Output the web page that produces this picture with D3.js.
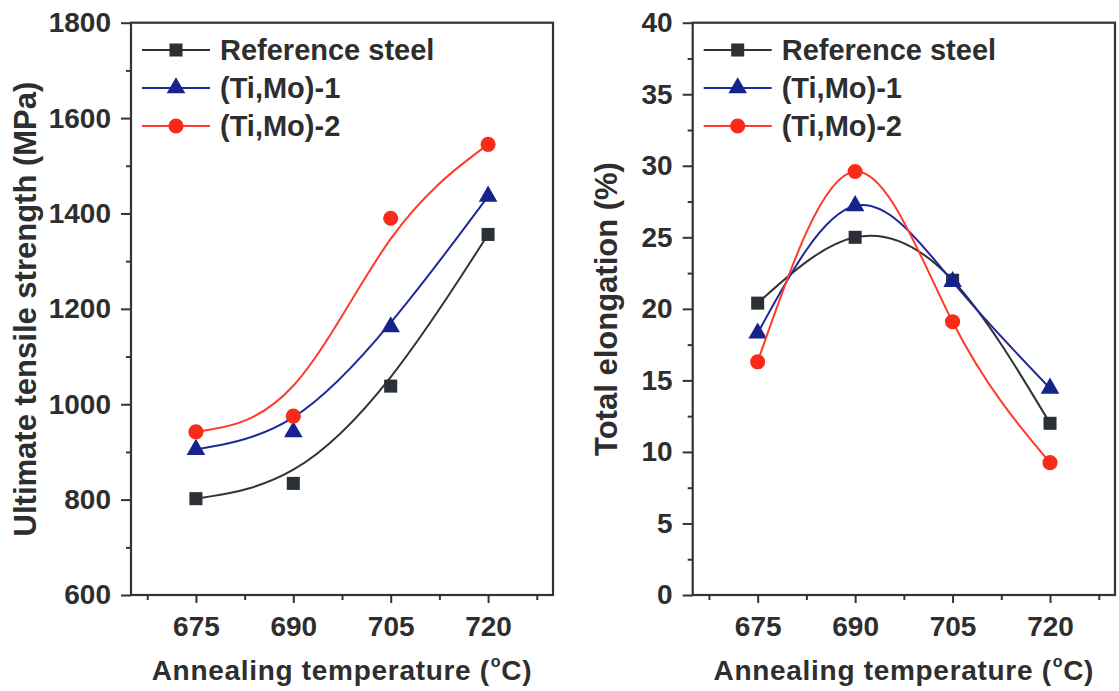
<!DOCTYPE html>
<html>
<head>
<meta charset="utf-8">
<script src="https://cdn.jsdelivr.net/npm/d3@7"></script>
<style>
  body { margin: 0; background: #fff; }
  text { font-family: "Liberation Sans", Arial, sans-serif; font-weight: bold; fill: #2e2e2e; }
</style>
</head>
<body>
<svg width="1119" height="691"></svg>
<script>
// data
const temps = [675, 690, 705, 720];
const seriesNames = ['Reference steel', '(Ti,Mo)-1', '(Ti,Mo)-2'];
const utsRef = [802, 834, 1038, 1356];
const utsTiMo1 = [905, 942, 1162, 1436];
const utsTiMo2 = [942, 975, 1390, 1545];
const elRef = [20.4, 25.0, 22.0, 12.0];
const elTiMo1 = [18.3, 27.2, 21.9, 14.45];
const elTiMo2 = [16.3, 29.6, 19.1, 9.25];
const utsTicks = [600, 800, 1000, 1200, 1400, 1600, 1800];
const elTicks = [0, 5, 10, 15, 20, 25, 30, 35, 40];

const svg = d3.select('svg');

const styles = [
  { line: '#333333', fill: '#2b2f36', sym: d3.symbolSquare, size: 170 },
  { line: '#1f2a9a', fill: '#17238c', sym: d3.symbolTriangle, size: 150 },
  { line: '#ff3b2b', fill: '#fa2a1a', sym: d3.symbolCircle, size: 180 }
];

function drawPanel(p) {
  const x = d3.scaleLinear().domain([665, 730]).range([p.left, p.right]);
  const y = d3.scaleLinear().domain(p.yDomain).range([595, 22.7]);
  const g = svg.append('g');

  // frame
  g.append('rect')
    .attr('x', p.left).attr('y', 22.7)
    .attr('width', p.right - p.left).attr('height', 595 - 22.7)
    .attr('fill', 'none').attr('stroke', '#333').attr('stroke-width', 2.2);

  // x axis
  const xa = g.append('g').attr('transform', 'translate(0,595)')
    .call(d3.axisBottom(x).tickValues(temps).tickSize(8).tickPadding(13).tickFormat(d3.format('d')));
  xa.append('g').call(d3.axisBottom(x).tickValues([667.5, 682.5, 697.5, 712.5, 727.5]).tickSize(5).tickFormat(''));

  // y axis
  const ya = g.append('g').attr('transform', `translate(${p.left},0)`)
    .call(d3.axisLeft(y).tickValues(p.ticks).tickSize(10).tickPadding(10).tickFormat(d3.format('d')));
  ya.append('g').call(d3.axisLeft(y).tickValues(p.minor).tickSize(5).tickFormat(''));

  g.selectAll('.domain').remove();
  g.selectAll('.tick line').attr('stroke', '#333').attr('stroke-width', 2);
  g.selectAll('.tick text').style('font-size', '28px').attr('fill', '#2e2e2e');

  // axis titles
  const xt = g.append('text')
    .attr('x', (p.left + p.right) / 2).attr('y', 680)
    .attr('text-anchor', 'middle').style('font-size', '28px').style('letter-spacing', '0.7px');
  xt.append('tspan').text('Annealing temperature (');
  xt.append('tspan').text('o').style('font-size', '16px').attr('dy', -13).attr('dx', 1);
  xt.append('tspan').text('C)').attr('dy', 13);

  g.append('text')
    .attr('transform', `translate(${p.titleX},309) rotate(-90)`)
    .attr('text-anchor', 'middle').style('font-size', '31px')
    .text(p.title);

  // curves and markers
  p.series.forEach((vals, i) => {
    const st = styles[i];
    const pts = temps.map((t, j) => [t, vals[j]]);
    g.append('path')
      .attr('d', d3.line().x(d => x(d[0])).y(d => y(d[1])).curve(p.curve)(pts))
      .attr('fill', 'none').attr('stroke', st.line).attr('stroke-width', 2);
    g.selectAll(null).data(pts).enter().append('path')
      .attr('transform', d => `translate(${x(d[0])},${y(d[1])})`)
      .attr('d', d3.symbol().type(st.sym).size(st.size))
      .attr('fill', st.fill);
  });

  // legend
  seriesNames.forEach((name, i) => {
    const st = styles[i];
    const ly = 50 + i * 38;
    const lx = p.left + 11;
    g.append('line').attr('x1', lx).attr('x2', lx + 68).attr('y1', ly).attr('y2', ly)
      .attr('stroke', st.line).attr('stroke-width', 2);
    g.append('path').attr('transform', `translate(${lx + 34},${ly})`)
      .attr('d', d3.symbol().type(st.sym).size(st.size)).attr('fill', st.fill);
    g.append('text').attr('x', lx + 78).attr('y', ly + 10)
      .style('font-size', '29px').text(name);
  });
}

drawPanel({
  left: 131, right: 553, yDomain: [600, 1800], ticks: utsTicks,
  minor: [700, 900, 1100, 1300, 1500, 1700],
  title: 'Ultimate tensile strength (MPa)', titleX: 36,
  series: [utsRef, utsTiMo1, utsTiMo2], curve: d3.curveBasis
});

drawPanel({
  left: 692.7, right: 1115, yDomain: [0, 40], ticks: elTicks,
  minor: [2.5, 7.5, 12.5, 17.5, 22.5, 27.5, 32.5, 37.5],
  title: 'Total elongation (%)', titleX: 617,
  series: [elRef, elTiMo1, elTiMo2], curve: d3.curveNatural
});
</script>
</body>
</html>
